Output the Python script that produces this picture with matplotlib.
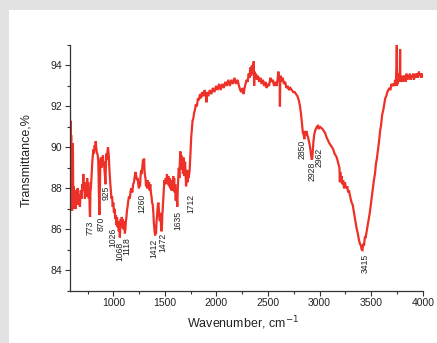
import numpy as np
import matplotlib
matplotlib.use('Agg')
import matplotlib.pyplot as plt
from matplotlib import rcParams
from matplotlib.patches import Rectangle
from matplotlib.ticker import MultipleLocator

rcParams['font.family'] = ['Liberation Sans', 'DejaVu Sans']
rcParams['axes.linewidth'] = 0.9

# IR spectrum (wavenumber, cm-1 / transmittance, %)
wavenumber = [
    577, 579, 582, 585, 588, 591, 594, 597, 600, 604, 608, 612, 617, 622, 628, 634, 640, 647, 654, 661, 668, 676, 684, 692, 700,
    705, 709, 714, 719, 724, 730, 735, 741, 746, 752, 757, 762, 767, 771, 774, 778, 783, 789, 795, 801, 807, 813, 819, 825, 829,
    834, 839, 844, 849, 854, 858, 862, 865, 869, 874, 879, 884, 889, 894, 899, 904, 909, 914, 919, 923, 928, 933, 938, 943, 948,
    952, 956, 961,
    966, 971, 976, 982, 988, 994, 1000, 1006, 1012, 1018, 1024, 1030, 1036, 1042, 1048, 1053, 1058, 1063, 1067, 1072, 1077, 1082,
    1087, 1092, 1097, 1102, 1107, 1112, 1117, 1122, 1127, 1132, 1138, 1145, 1152, 1160, 1168, 1176, 1184, 1192, 1200, 1208, 1215,
    1222, 1229, 1236, 1242, 1248, 1254, 1259, 1264, 1270, 1276, 1282, 1288, 1293, 1298, 1302, 1307, 1312, 1317, 1322, 1328, 1334,
    1340, 1346, 1352, 1358, 1364, 1370, 1376,
    1382, 1388, 1393, 1398, 1402, 1406, 1410, 1414, 1418, 1422, 1427, 1432, 1437, 1442, 1447, 1452, 1457, 1462, 1467, 1471, 1475,
    1480, 1485, 1490, 1496, 1502, 1508, 1514, 1520, 1527, 1533, 1539, 1545, 1551, 1557, 1563, 1569, 1575, 1580, 1585, 1590, 1595,
    1600, 1605, 1610, 1615, 1620, 1625, 1630, 1635, 1640, 1645, 1650, 1655, 1660, 1665, 1670, 1675, 1680, 1685, 1690, 1695, 1700,
    1705, 1710, 1715, 1720, 1725, 1730, 1735, 1740, 1745, 1750, 1755,
    1762, 1768, 1775, 1783, 1790, 1800, 1810, 1820, 1830, 1840, 1850, 1860, 1872, 1885, 1895, 1903, 1910, 1920, 1935, 1950, 1965,
    1980, 1995, 2010, 2025, 2040, 2055, 2070, 2085, 2100, 2115, 2130, 2145, 2160, 2175, 2190, 2205, 2218, 2230, 2242, 2254, 2263,
    2272, 2282, 2292, 2302, 2312, 2320, 2328, 2336, 2343, 2350, 2356, 2361, 2365, 2369, 2374, 2382, 2392, 2402, 2414, 2426, 2438,
    2450, 2462, 2474, 2486, 2498, 2510, 2522, 2534, 2546, 2558, 2570, 2582, 2592, 2600, 2607, 2612, 2615, 2618, 2624, 2632, 2642,
    2654, 2666, 2678, 2690, 2703, 2716, 2730, 2744, 2758, 2772, 2785, 2798, 2810, 2820, 2830, 2838, 2846,
    2852, 2858, 2865, 2872, 2880, 2888, 2896, 2904, 2912, 2918, 2924, 2929, 2934, 2940, 2947, 2955, 2963, 2972, 2982, 2992, 3004,
    3016, 3028, 3040, 3053, 3066, 3080, 3094, 3108, 3120, 3132, 3144, 3156, 3166, 3176, 3186, 3192, 3196, 3200, 3206, 3212, 3220,
    3228, 3236, 3244, 3252, 3260, 3268, 3276, 3284, 3292, 3300, 3310, 3320, 3330, 3340, 3350, 3360, 3370, 3380, 3390, 3400, 3408,
    3415, 3422, 3430, 3438, 3446, 3456, 3466, 3476, 3486, 3496, 3506, 3516, 3526, 3536, 3546, 3556, 3566, 3576, 3586, 3596, 3606,
    3616, 3626, 3636, 3646, 3656, 3666, 3676, 3686, 3696, 3706, 3716, 3724, 3732, 3738, 3743,
    3746, 3748, 3750, 3753, 3757, 3762, 3767, 3771, 3775, 3778, 3780, 3782, 3785, 3790, 3796, 3803, 3810, 3818, 3826, 3834, 3842,
    3850, 3858, 3866, 3874, 3882, 3890, 3898, 3906, 3914, 3922, 3930, 3938, 3946, 3954, 3962, 3970, 3978, 3986, 3994, 4000,
]
transmittance = [
    90.5, 92.2, 89.0, 91.3, 87.6, 90.6, 87.0, 89.3, 86.9, 88.0, 90.2, 87.0, 88.1, 87.1, 87.9, 87.0, 87.8, 87.3, 88.0, 87.2, 87.7, 87.1, 87.9, 87.5, 88.2,
    88.0, 88.7, 87.9, 88.3, 87.5, 87.9, 88.2, 87.6, 88.5, 87.8, 88.3, 87.5, 87.9, 86.9, 86.6, 87.8, 88.1, 88.6, 89.2, 89.6, 89.9, 89.7, 90.1, 89.9, 90.3,
    90.0, 89.8, 89.7, 89.6, 89.3, 88.4, 87.2, 86.7, 87.8, 89.2, 89.5, 89.0, 89.4, 89.1, 89.6, 89.2, 89.3, 88.9, 88.6, 88.2, 89.1, 89.7, 89.4, 89.8, 90.0,
    89.8, 89.6, 89.0,
    88.6, 88.2, 87.9, 87.5, 87.6, 87.1, 87.3, 86.8, 87.0, 86.5, 86.7, 86.2, 86.6, 86.1, 86.4, 85.9, 86.3, 85.6, 86.0, 86.5, 86.1, 86.6,
    86.2, 86.5, 86.0, 86.4, 86.1, 85.8, 86.0, 86.4, 86.6, 86.9, 87.1, 87.4, 87.6, 87.5, 87.9, 88.0, 87.8, 88.2, 88.3, 88.6, 88.8,
    88.6, 88.4, 88.5, 88.2, 88.0, 88.3, 88.1, 88.6, 88.9, 88.7, 89.1, 89.4, 89.0, 89.45, 88.9, 88.6, 88.5, 88.1, 88.3, 88.0, 88.4,
    88.1, 88.3, 87.9, 88.2, 87.8, 87.6, 87.3,
    87.2, 86.8, 86.3, 86.0, 85.8, 85.7, 86.0, 85.8, 86.3, 86.6, 86.9, 87.2, 87.3, 86.9, 86.5, 86.4, 86.8, 86.2, 85.9, 86.1, 86.7,
    87.1, 87.6, 88.0, 88.4, 88.2, 88.5, 88.3, 88.7, 88.2, 88.6, 88.1, 88.5, 88.0, 88.4, 87.9, 88.1, 87.9, 88.6, 88.2, 88.5, 87.8,
    88.2, 87.4, 88.0, 87.6, 87.1, 88.0, 88.6, 89.0, 88.5, 89.3, 89.8, 89.2, 89.6, 88.9, 89.3, 88.7, 89.5, 89.1, 88.6, 89.3, 88.8,
    88.1, 88.4, 88.9, 88.3, 88.8, 88.5, 88.7, 88.9, 89.4, 89.9, 90.5,
    90.9, 91.3, 91.4, 91.7, 91.8, 92.1, 92.0, 92.4, 92.3, 92.6, 92.4, 92.7, 92.5, 92.8, 92.6, 92.2, 92.7, 92.5, 92.8, 92.6, 92.9,
    92.7, 93.0, 92.8, 93.1, 92.8, 93.1, 92.9, 93.2, 93.0, 93.3, 93.0, 93.3, 93.1, 93.4, 93.1, 93.3, 93.0, 92.8, 92.7, 92.9, 92.6,
    92.9, 93.1, 93.3, 93.2, 93.6, 93.4, 93.9, 93.5, 94.0, 93.6, 93.9, 94.2, 93.0, 93.7, 93.4, 93.6, 93.3, 93.5, 93.2, 93.4, 93.1,
    93.3, 93.0, 93.2, 92.9, 93.1, 93.0, 93.4, 93.2, 93.3, 93.0, 93.2, 93.0, 93.3, 93.7, 93.2, 93.4, 92.0, 93.3, 93.5, 93.2, 93.4,
    93.1, 93.2, 92.9, 93.0, 92.8, 92.9, 92.8, 92.7, 92.7, 92.6, 92.5, 92.3, 92.0, 91.6, 91.1, 90.7, 90.6,
    90.4, 90.8, 90.6, 90.8, 90.6, 90.5, 90.3, 90.1, 89.8, 89.6, 89.4, 89.5, 89.9, 90.3, 90.6, 90.8, 90.9, 91.0, 91.05, 90.9, 91.0,
    90.95, 90.9, 90.8, 90.7, 90.5, 90.35, 90.2, 90.1, 90.0, 89.9, 89.7, 89.6, 89.5, 89.3, 89.1, 89.0, 88.3, 88.8, 88.3, 88.6, 88.2,
    88.4, 88.0, 88.3, 88.1, 88.0, 88.1, 87.8, 87.9, 87.7, 87.5, 87.3, 87.2, 86.9, 86.6, 86.3, 86.0, 85.8, 85.5, 85.3, 85.2, 85.0,
    84.98, 85.3, 85.2, 85.6, 85.6, 85.9, 86.2, 86.5, 86.8, 87.2, 87.6, 88.0, 88.4, 88.7, 89.2, 89.5, 89.9, 90.3, 90.8, 91.1, 91.6,
    91.8, 92.1, 92.4, 92.5, 92.7, 92.8, 92.9, 92.8, 93.1, 93.0, 93.1, 93.0, 93.3, 93.0, 93.5,
    94.0, 95.0, 93.0, 93.4, 93.1, 93.5, 93.2, 93.6, 93.3, 93.8, 94.8, 93.4, 93.5, 93.2, 93.4, 93.2, 93.5, 93.3, 93.5, 93.2, 93.6,
    93.3, 93.5, 93.4, 93.6, 93.3, 93.5, 93.4, 93.6, 93.3, 93.5, 93.6, 93.4, 93.6, 93.4, 93.7, 93.5, 93.6, 93.4, 93.6, 93.5,
]

# band labels: text, x position, top of the rotated text
band_labels = ['773', '870', '925', '1026', '1068', '1118', '1260', '1412', '1472',
               '1635', '1712', '2850', '2928', '2962', '3415']
band_x = [774, 885, 926, 995, 1062, 1136, 1275, 1395, 1479, 1630, 1750, 2827, 2924, 2998, 3441]
band_top = [86.4, 86.6, 88.15, 86.05, 85.4, 85.6, 87.75, 85.55, 85.85, 86.9, 87.75,
            90.35, 89.3, 90.0, 84.8]

assert len(wavenumber) == len(transmittance)

fig = plt.figure(figsize=(4.37, 3.43), dpi=100, facecolor='#e2e2e2')
fig.patches.append(Rectangle((9 / 437, 0), 1, 333 / 343, transform=fig.transFigure,
                             facecolor='white', edgecolor='none', zorder=-10))
ax = fig.add_axes([0.1595, 0.1525, 0.808, 0.7163])
ax.set_facecolor('none')

ax.plot(wavenumber, transmittance, color='#ee3128', linewidth=1.6, solid_joinstyle='miter')

for lab, x, y in zip(band_labels, band_x, band_top):
    ax.text(x, y, lab, rotation=90, ha='center', va='top', fontsize=6.2, color='#222222')

ax.set_xlim(577, 4000)
ax.set_ylim(83, 95)
ax.xaxis.set_major_locator(MultipleLocator(500))
ax.xaxis.set_minor_locator(MultipleLocator(250))
ax.yaxis.set_major_locator(MultipleLocator(2))
ax.yaxis.set_minor_locator(MultipleLocator(1))
ax.tick_params(which='major', direction='out', length=3.6, width=0.8, labelsize=7.5,
               pad=1.5, colors='#333333', labelcolor='#222222')
ax.tick_params(which='minor', direction='out', length=2.2, width=0.8, colors='#333333')
for side in ['top', 'right']:
    ax.spines[side].set_visible(False)
for side in ['left', 'bottom']:
    ax.spines[side].set_color('#333333')

ax.set_xlabel(r'Wavenumber, cm$^{-1}$', fontsize=9, color='#222222')
ax.set_ylabel('Transmittance,%', fontsize=9, color='#222222')
ax.xaxis.set_label_coords(0.491, -0.095)
ax.yaxis.set_label_coords(-0.105, 0.53)

plt.savefig('out.png', dpi=100, facecolor=fig.get_facecolor())
